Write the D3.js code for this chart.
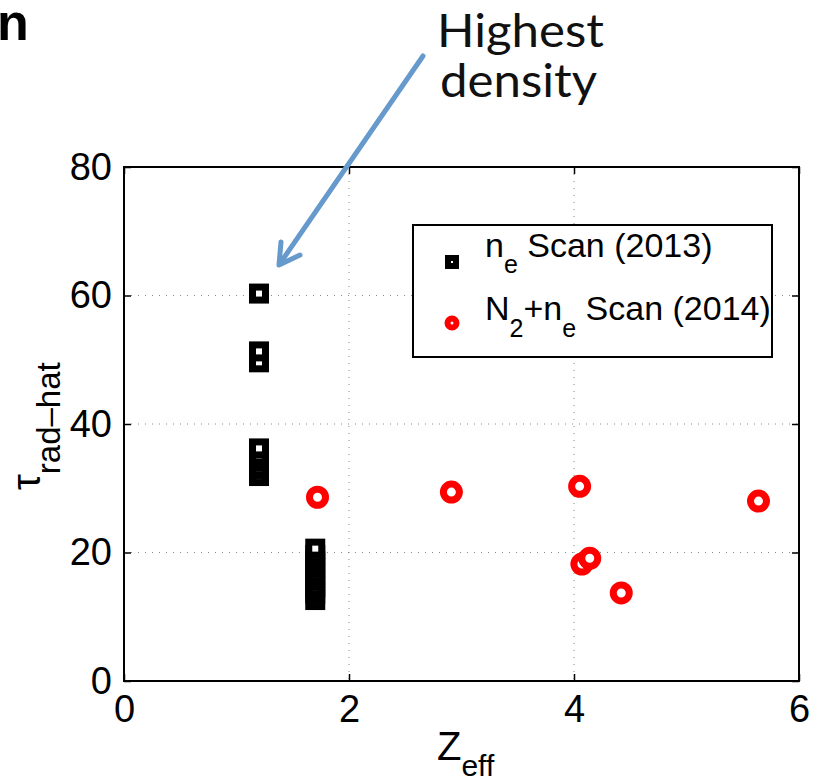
<!DOCTYPE html>
<html>
<head>
<meta charset="utf-8">
<script src="https://cdn.jsdelivr.net/npm/d3@7"></script>
<style>
  body { margin: 0; background: #fff; }
  svg { display: block; font-family: "Liberation Sans", Arial, sans-serif; }
</style>
</head>
<body>
<div id="chart"></div>
<script>
// ne scan (2013), black squares
const neScanZeff = [1.2, 1.2, 1.2, 1.2, 1.2, 1.2, 1.2, 1.2,
                    1.7, 1.7, 1.7, 1.7, 1.7, 1.7, 1.7, 1.7, 1.7];
const neScanTau  = [60.3, 49.6, 51.3, 31.9, 33.0, 34.1, 35.1, 36.2,
                    12.6, 13.6, 14.6, 15.6, 16.6, 17.6, 18.6, 19.6, 20.6];

// N2 + ne scan (2014), red circles
const n2ScanZeff = [1.72, 2.91, 4.05, 4.07, 4.14, 4.42, 5.64];
const n2ScanTau  = [28.6, 29.4, 30.3, 18.2, 19.1, 13.7, 28.0];

const xTicks = [0, 2, 4, 6];
const yTicks = [0, 20, 40, 60, 80];

const width = 821, height = 777;
const plot = {left: 124, right: 799, top: 167, bottom: 681};

const svg = d3.select("#chart").append("svg")
    .attr("width", width)
    .attr("height", height);

const x = d3.scaleLinear().domain([0, 6]).range([plot.left, plot.right]);
const y = d3.scaleLinear().domain([0, 80]).range([plot.bottom, plot.top]);

// dotted grid
svg.append("g").selectAll("line")
    .data(xTicks.slice(1, -1))
    .join("line")
    .attr("x1", d => x(d)).attr("x2", d => x(d))
    .attr("y1", plot.top).attr("y2", plot.bottom)
    .style("stroke", "#888")
    .style("stroke-width", 1)
    .style("stroke-dasharray", "1,6");

svg.append("g").selectAll("line")
    .data(yTicks.slice(1, -1))
    .join("line")
    .attr("x1", plot.left).attr("x2", plot.right)
    .attr("y1", d => y(d)).attr("y2", d => y(d))
    .style("stroke", "#888")
    .style("stroke-width", 1)
    .style("stroke-dasharray", "1,6");

// axes with inward ticks, box all round
function styleAxis(g) {
    g.select(".domain").remove();
    g.selectAll(".tick line").style("stroke", "#000").style("stroke-width", 1.5);
    g.selectAll(".tick text")
        .style("font-family", "'Liberation Sans', Arial, sans-serif")
        .style("font-size", "38px")
        .style("fill", "#000");
}

svg.append("g")
    .attr("transform", `translate(0,${plot.bottom})`)
    .call(d3.axisBottom(x).tickValues(xTicks).tickSize(-7).tickPadding(14).tickFormat(d3.format("d")))
    .call(styleAxis)
    .selectAll(".tick text").attr("dy", "0.71em");

svg.append("g")
    .attr("transform", `translate(0,${plot.top})`)
    .call(d3.axisTop(x).tickValues(xTicks).tickSize(-7).tickFormat(""))
    .call(styleAxis);

svg.append("g")
    .attr("transform", `translate(${plot.left},0)`)
    .call(d3.axisLeft(y).tickValues(yTicks).tickSize(-7).tickPadding(12).tickFormat(d3.format("d")))
    .call(styleAxis);

svg.append("g")
    .attr("transform", `translate(${plot.right},0)`)
    .call(d3.axisRight(y).tickValues(yTicks).tickSize(-7).tickFormat(""))
    .call(styleAxis);

svg.append("rect")
    .attr("x", plot.left).attr("y", plot.top)
    .attr("width", plot.right - plot.left)
    .attr("height", plot.bottom - plot.top)
    .style("fill", "none")
    .style("stroke", "#000")
    .style("stroke-width", 2);

// black squares
const sq = 13;
svg.append("g").selectAll("rect")
    .data(d3.range(neScanZeff.length))
    .join("rect")
    .attr("x", i => x(neScanZeff[i]) - sq / 2)
    .attr("y", i => y(neScanTau[i]) - sq / 2)
    .attr("width", sq).attr("height", sq)
    .style("fill", "#fff")
    .style("stroke", "#000")
    .style("stroke-width", 7);

// red circles
svg.append("g").selectAll("circle")
    .data(d3.range(n2ScanZeff.length))
    .join("circle")
    .attr("cx", i => x(n2ScanZeff[i]))
    .attr("cy", i => y(n2ScanTau[i]))
    .attr("r", 8)
    .style("fill", "#fff")
    .style("stroke", "#ff0000")
    .style("stroke-width", 7);

// legend
const legend = svg.append("g");
legend.append("rect")
    .attr("x", 413).attr("y", 225)
    .attr("width", 359).attr("height", 132)
    .style("fill", "#fff")
    .style("stroke", "#000")
    .style("stroke-width", 2);

legend.append("rect")
    .attr("x", 452 - 4).attr("y", 262 - 4)
    .attr("width", 8).attr("height", 8)
    .style("fill", "#fff")
    .style("stroke", "#000")
    .style("stroke-width", 6);

legend.append("circle")
    .attr("cx", 452).attr("cy", 323)
    .attr("r", 4.5)
    .style("fill", "#fff")
    .style("stroke", "#ff0000")
    .style("stroke-width", 6);

const l1 = legend.append("text")
    .attr("x", 485).attr("y", 257)
    .style("font-size", "34px");
l1.append("tspan").text("n");
l1.append("tspan").attr("dy", 16).style("font-size", "25px").text("e");
l1.append("tspan").attr("dy", -16).text(" Scan (2013)");

const l2 = legend.append("text")
    .attr("x", 485).attr("y", 320)
    .style("font-size", "34px");
l2.append("tspan").text("N");
l2.append("tspan").attr("dy", 17).style("font-size", "25px").text("2");
l2.append("tspan").attr("dy", -17).text("+n");
l2.append("tspan").attr("dy", 17).style("font-size", "25px").text("e");
l2.append("tspan").attr("dy", -17).text(" Scan (2014)");

// axis labels
const xl = svg.append("text")
    .attr("x", 437).attr("y", 760)
    .style("font-size", "40px");
xl.append("tspan").text("Z");
xl.append("tspan").attr("dy", 16).style("font-size", "30px").text("eff");

const yl = svg.append("text")
    .attr("transform", "translate(40,490) rotate(-90)")
    .style("font-size", "40px");
yl.append("tspan").text("τ");
yl.append("tspan").attr("dy", 20).style("font-size", "33px").text("rad–hat");

// panel letter, cut at the edge
svg.append("text")
    .attr("x", -3).attr("y", 40)
    .style("font-size", "52px")
    .style("font-weight", "bold")
    .text("n");

// annotation
svg.append("text")
    .attr("x", 437).attr("y", 47)
    .attr("textLength", 167)
    .attr("lengthAdjust", "spacingAndGlyphs")
    .style("font-family", "Lato, 'Open Sans', sans-serif")
    .style("font-weight", 400)
    .style("font-size", "46px")
    .style("fill", "#111")
    .text("Highest");
svg.append("text")
    .attr("x", 440).attr("y", 97)
    .attr("textLength", 157)
    .attr("lengthAdjust", "spacingAndGlyphs")
    .style("font-family", "Lato, 'Open Sans', sans-serif")
    .style("font-weight", 400)
    .style("font-size", "46px")
    .style("fill", "#111")
    .text("density");

const arrowColor = "#6699cc";
svg.append("line")
    .attr("x1", 423).attr("y1", 56)
    .attr("x2", 281).attr("y2", 262)
    .style("stroke", arrowColor)
    .style("stroke-width", 5)
    .style("stroke-linecap", "round");
svg.append("path")
    .attr("d", "M281,242 L279,265 L300,255")
    .style("fill", "none")
    .style("stroke", arrowColor)
    .style("stroke-width", 5)
    .style("stroke-linecap", "round")
    .style("stroke-linejoin", "round");
</script>
</body>
</html>
